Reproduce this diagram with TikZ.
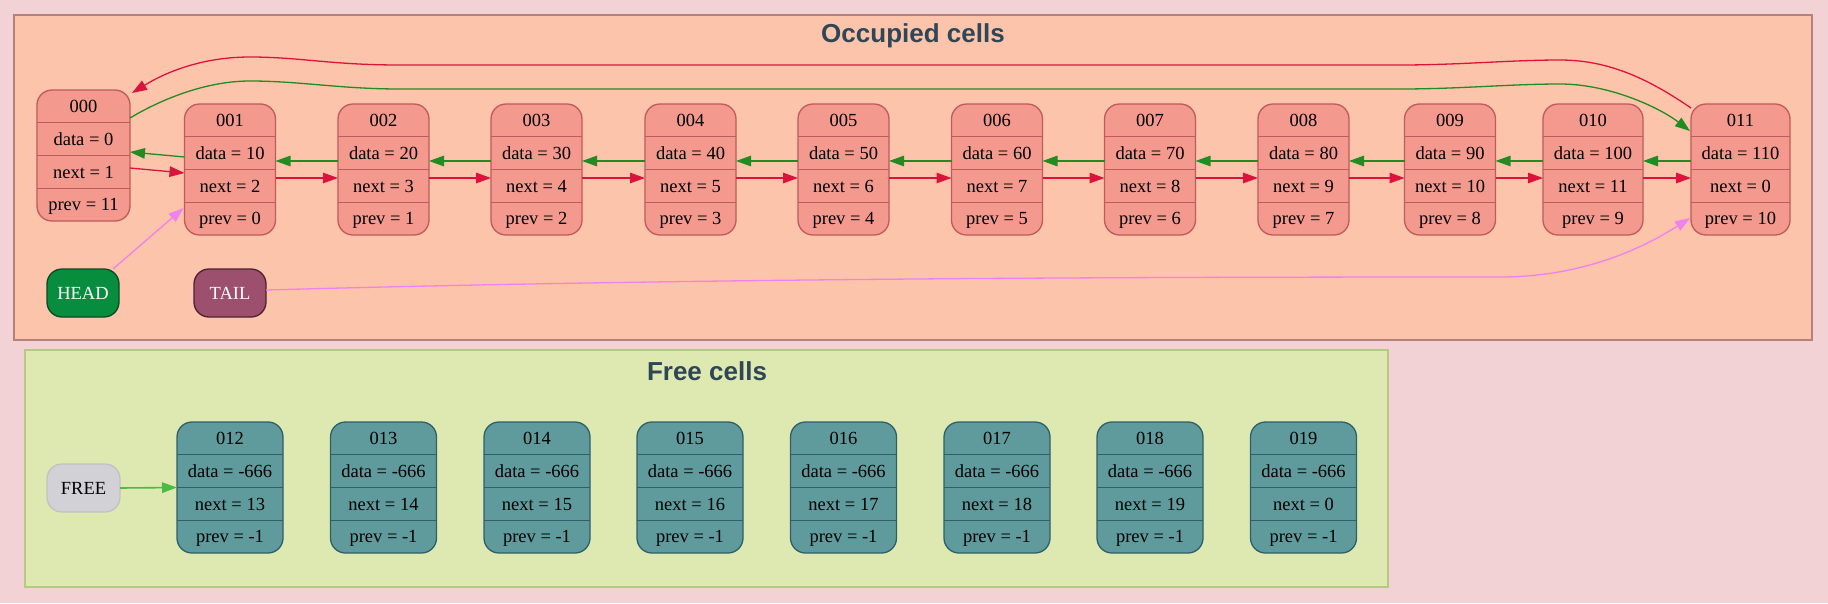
\documentclass[tikz,border=0pt]{standalone}
\usepackage{fontspec}
\setmainfont{Liberation Serif}
\newfontfamily\titlefont{Liberation Sans}
\usetikzlibrary{arrows.meta,calc}
\definecolor{bgc}{HTML}{F2D2D5}
\definecolor{occF}{HTML}{FCC4AA}
\definecolor{occB}{HTML}{B8807A}
\definecolor{cellF}{HTML}{F4998D}
\definecolor{cellB}{HTML}{C05A5C}
\definecolor{freeF}{HTML}{DDE9B0}
\definecolor{freeB}{HTML}{B6C982}
\definecolor{fcellF}{HTML}{5F9B9D}
\definecolor{fcellB}{HTML}{2F5F6A}
\definecolor{freenF}{HTML}{D2D2D6}
\definecolor{freenB}{HTML}{C2C2C6}
\definecolor{headF}{HTML}{088C3E}
\definecolor{headB}{HTML}{0A4A22}
\definecolor{tailF}{HTML}{9C506E}
\definecolor{tailB}{HTML}{4C2233}
\definecolor{titleC}{HTML}{2E4656}
\definecolor{redE}{HTML}{DC143C}
\definecolor{greenE}{HTML}{228B22}
\definecolor{pinkE}{HTML}{EE82EE}
\definecolor{freeE}{HTML}{4CBB44}
\tikzset{
  cellbox/.style={draw=cellB, fill=cellF, line width=1.3pt, rounded corners=15pt, inner sep=0pt, outer sep=0pt, minimum height=131pt},
  fcellbox/.style={draw=fcellB, fill=fcellF, line width=1.3pt, rounded corners=15pt, inner sep=0pt, outer sep=0pt, minimum height=131pt},
  cellsep/.style={draw=cellB, line width=1.3pt},
  fcellsep/.style={draw=fcellB, line width=1.3pt},
  celltxt/.style={inner sep=0pt, font=\fontsize{18.5}{22}\selectfont, text height=16pt, text depth=3.6pt},
  ptr/.style={rounded corners=15pt, line width=1.3pt, inner sep=0pt, outer sep=0pt, minimum width=72pt, minimum height=48pt, font=\fontsize{18.5}{22}\selectfont, text height=16pt, text depth=3.6pt},
  cluster/.style={line width=1.6pt},
  title/.style={font=\titlefont\bfseries\fontsize{26}{30}\selectfont, text=titleC, inner sep=0pt},
  tip/.style={-{Triangle[length=15pt,width=10.5pt]}},
  nextarr/.style={draw=redE, line width=1.3pt, tip},
  prevarr/.style={draw=greenE, line width=1.3pt, tip},
  ptrarr/.style={draw=pinkE, line width=1.3pt, tip},
  freearr/.style={draw=freeE, line width=1.6pt, tip},
}
\newcommand\memcell[9]{%
  \node[#9box, minimum width=#4pt] (#1) at (#2,#3+65.5) {};
  \foreach \k in {1,2,3} \draw[#9sep] (#2-#4/2,#3+32.75*\k) -- (#2+#4/2,#3+32.75*\k);
  \node[celltxt] (#1-l) at (#2,#3+16.4) {#5};
  \node[celltxt] (#1-d) at (#2,#3+49.1) {data = #6};
  \node[celltxt] (#1-n) at (#2,#3+81.9) {next = #7};
  \node[celltxt] (#1-p) at (#2,#3+114.6) {prev = #8};
}
\begin{document}
\begin{tikzpicture}[x=1pt,y=-1pt]
\fill[bgc] (0,0) rectangle (1828,603);
\useasboundingbox (0,0) rectangle (1828,603);
% clusters
\draw[cluster, draw=occB, fill=occF] (14,15) rectangle (1812,340);
\node[title] (occT) at (913,36) {Occupied cells};
\draw[cluster, draw=freeB, fill=freeF] (25,350) rectangle (1388,587);
\node[title] (freeT) at (707,371) {Free cells};
% occupied cells
\memcell{n000}{83.5}{90}{93}{000}{0}{1}{11}{cell}
\memcell{n001}{230}{104}{91}{001}{10}{2}{0}{cell}
\memcell{n002}{383.5}{104}{91}{002}{20}{3}{1}{cell}
\memcell{n003}{536.5}{104}{91}{003}{30}{4}{2}{cell}
\memcell{n004}{690.5}{104}{91}{004}{40}{5}{3}{cell}
\memcell{n005}{843.5}{104}{91}{005}{50}{6}{4}{cell}
\memcell{n006}{997}{104}{91}{006}{60}{7}{5}{cell}
\memcell{n007}{1150}{104}{91}{007}{70}{8}{6}{cell}
\memcell{n008}{1303.5}{104}{91}{008}{80}{9}{7}{cell}
\memcell{n009}{1450}{104}{91}{009}{90}{10}{8}{cell}
\memcell{n010}{1593}{104}{100}{010}{100}{11}{9}{cell}
\memcell{n011}{1740.5}{104}{99}{011}{110}{0}{10}{cell}
% free cells
\memcell{n012}{230}{422}{106}{012}{-666}{13}{-1}{fcell}
\memcell{n013}{383.5}{422}{106}{013}{-666}{14}{-1}{fcell}
\memcell{n014}{537}{422}{106}{014}{-666}{15}{-1}{fcell}
\memcell{n015}{690}{422}{106}{015}{-666}{16}{-1}{fcell}
\memcell{n016}{843.5}{422}{106}{016}{-666}{17}{-1}{fcell}
\memcell{n017}{997}{422}{106}{017}{-666}{18}{-1}{fcell}
\memcell{n018}{1150}{422}{106}{018}{-666}{19}{-1}{fcell}
\memcell{n019}{1303.5}{422}{106}{019}{-666}{0}{-1}{fcell}
% pointer nodes
\node[ptr, draw=headB, fill=headF, text=white] (head) at (83,293) {HEAD};
\node[ptr, draw=tailB, fill=tailF, text=white] (tail) at (230,293) {TAIL};
\node[ptr, draw=freenB, fill=freenF, minimum width=73pt] (freen) at (83.5,488) {FREE};
% chain edges
\draw[nextarr] ($(n000.east)+(0,12.5)$) -- ($(n001.west)+(0,3.5)$);
\draw[prevarr] ($(n001.west)+(0,-12.5)$) -- ($(n000.east)+(0,-3.5)$);
\foreach \a/\b in {001/002,002/003,003/004,004/005,005/006,006/007,007/008,008/009,009/010,010/011} {
  \draw[nextarr] ($(n\a.east)+(0,8.5)$) -- ($(n\b.west)+(0,8.5)$);
  \draw[prevarr] ($(n\b.west)+(0,-8.5)$) -- ($(n\a.east)+(0,-8.5)$);
}
% wrap-around edges
\draw[nextarr] ($(n011.north west)+(0,4)$) .. controls (1650,80) and (1610,60) .. (1560,60)
  .. controls (1510,60) and (1460,65) .. (1400,65) -- (400,65)
  .. controls (330,65) and (300,57) .. (250,57)
  .. controls (195,57) and (158,77) .. ($(n000.north east)+(2,3)$);
\draw[prevarr] ($(n000.north east)+(0,28)$) .. controls (160,100) and (205,81) .. (250,81)
  .. controls (300,81) and (340,89) .. (400,89) -- (1400,89)
  .. controls (1460,89) and (1510,84) .. (1560,84)
  .. controls (1610,84) and (1660,108) .. ($(n011.north west)+(-1,27)$);
% pointer edges
\draw[ptrarr] ($(head.north east)+(-6,0)$) -- ($(n001.south west)+(-1,-27)$);
\draw[ptrarr] ($(tail.east)+(0,-3)$) .. controls (700,278) and (1150,277) .. (1500,277)
  .. controls (1580,277) and (1640,250) .. ($(n011.south west)+(-1,-17)$);
\draw[freearr] (freen.east) -- (n012.west);
\end{tikzpicture}
\end{document}
